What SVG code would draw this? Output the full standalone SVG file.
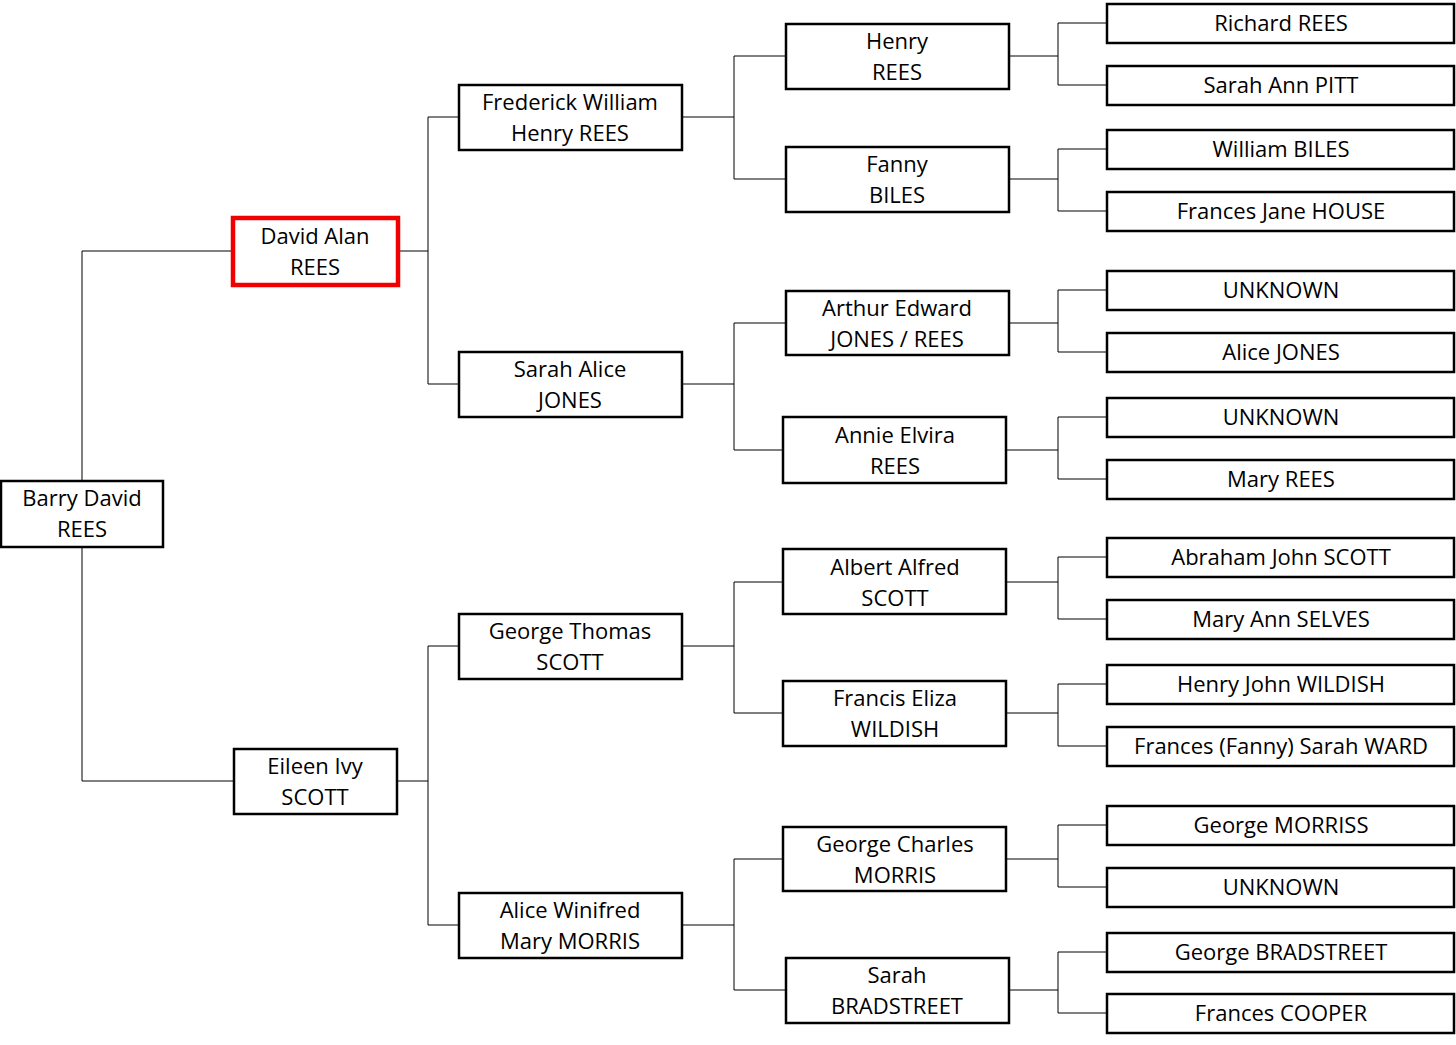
<svg xmlns="http://www.w3.org/2000/svg" width="1456" height="1045" viewBox="0 0 1456 1045">
<style>
rect{fill:#fff;stroke:#000;stroke-width:2.5}
rect.sel{stroke:#f00000;stroke-width:4.5}
text{font-family:"Open Sans","Noto Sans",sans-serif;font-size:22px;text-anchor:middle;fill:#000}
#connectors path{fill:none;stroke:#000;stroke-width:1}
</style>
<rect x="0" y="0" width="1456" height="1045" style="fill:#fff;stroke:none"/>
<g id="connectors">
<path d="M232 251H82V781H234"/>
<path d="M398 251H428M459 117H428V384H459M397 781H428M459 646H428V925H459"/>
<path d="M682 117H734M786 56H734V179H786M682 384H734M786 323H734V450H783M682 646H734M783 582H734V713H783M682 925H734M783 859H734V990H786"/>
<path d="M1009 56H1058M1107 23H1058V85H1107M1009 179H1058M1107 149H1058V211H1107M1009 323H1058M1107 290H1058V352H1107M1006 450H1058M1107 417H1058V479H1107M1006 582H1058M1107 557H1058V619H1107M1006 713H1058M1107 684H1058V746H1107M1006 859H1058M1107 825H1058V887H1107M1009 990H1058M1107 952H1058V1013H1107"/>
</g>
<g id="barry"><rect x="1" y="481" width="162" height="66"/><text x="82" y="506">Barry David</text><text x="82" y="537">REES</text></g>
<g id="david"><rect class="sel" x="233" y="218" width="165" height="67"/><text x="315" y="244">David Alan</text><text x="315" y="275">REES</text></g>
<g id="eileen"><rect x="234" y="749" width="163" height="65"/><text x="315" y="774">Eileen Ivy</text><text x="315" y="805">SCOTT</text></g>
<g id="frederick"><rect x="459" y="85" width="223" height="65"/><text x="570" y="110">Frederick William</text><text x="570" y="141">Henry REES</text></g>
<g id="sarahalice"><rect x="459" y="352" width="223" height="65"/><text x="570" y="377">Sarah Alice</text><text x="570" y="408">JONES</text></g>
<g id="georgethomas"><rect x="459" y="614" width="223" height="65"/><text x="570" y="639">George Thomas</text><text x="570" y="670">SCOTT</text></g>
<g id="alicew"><rect x="459" y="893" width="223" height="65"/><text x="570" y="918">Alice Winifred</text><text x="570" y="949">Mary MORRIS</text></g>
<g id="henry"><rect x="786" y="24" width="223" height="65"/><text x="897" y="49">Henry</text><text x="897" y="80">REES</text></g>
<g id="fanny"><rect x="786" y="147" width="223" height="65"/><text x="897" y="172">Fanny</text><text x="897" y="203">BILES</text></g>
<g id="arthur"><rect x="786" y="291" width="223" height="64"/><text x="897" y="316">Arthur Edward</text><text x="897" y="347">JONES / REES</text></g>
<g id="annie"><rect x="783" y="417" width="223" height="66"/><text x="895" y="443">Annie Elvira</text><text x="895" y="474">REES</text></g>
<g id="albert"><rect x="783" y="549" width="223" height="65"/><text x="895" y="575">Albert Alfred</text><text x="895" y="606">SCOTT</text></g>
<g id="francis"><rect x="783" y="681" width="223" height="65"/><text x="895" y="706">Francis Eliza</text><text x="895" y="737">WILDISH</text></g>
<g id="georgecharles"><rect x="783" y="827" width="223" height="64"/><text x="895" y="852">George Charles</text><text x="895" y="883">MORRIS</text></g>
<g id="sarahb"><rect x="786" y="958" width="223" height="65"/><text x="897" y="983">Sarah</text><text x="897" y="1014">BRADSTREET</text></g>
<g id="g4-1"><rect x="1107" y="4" width="347" height="39"/><text x="1281" y="31">Richard REES</text></g>
<g id="g4-2"><rect x="1107" y="66" width="347" height="39"/><text x="1281" y="93">Sarah Ann PITT</text></g>
<g id="g4-3"><rect x="1107" y="130" width="347" height="39"/><text x="1281" y="157">William BILES</text></g>
<g id="g4-4"><rect x="1107" y="192" width="347" height="39"/><text x="1281" y="219">Frances Jane HOUSE</text></g>
<g id="g4-5"><rect x="1107" y="271" width="347" height="39"/><text x="1281" y="298">UNKNOWN</text></g>
<g id="g4-6"><rect x="1107" y="333" width="347" height="39"/><text x="1281" y="360">Alice JONES</text></g>
<g id="g4-7"><rect x="1107" y="398" width="347" height="39"/><text x="1281" y="425">UNKNOWN</text></g>
<g id="g4-8"><rect x="1107" y="460" width="347" height="39"/><text x="1281" y="487">Mary REES</text></g>
<g id="g4-9"><rect x="1107" y="538" width="347" height="39"/><text x="1281" y="565">Abraham John SCOTT</text></g>
<g id="g4-10"><rect x="1107" y="600" width="347" height="39"/><text x="1281" y="627">Mary Ann SELVES</text></g>
<g id="g4-11"><rect x="1107" y="665" width="347" height="39"/><text x="1281" y="692">Henry John WILDISH</text></g>
<g id="g4-12"><rect x="1107" y="727" width="347" height="39"/><text x="1281" y="754">Frances (Fanny) Sarah WARD</text></g>
<g id="g4-13"><rect x="1107" y="806" width="347" height="39"/><text x="1281" y="833">George MORRISS</text></g>
<g id="g4-14"><rect x="1107" y="868" width="347" height="39"/><text x="1281" y="895">UNKNOWN</text></g>
<g id="g4-15"><rect x="1107" y="933" width="347" height="39"/><text x="1281" y="960">George BRADSTREET</text></g>
<g id="g4-16"><rect x="1107" y="994" width="347" height="39"/><text x="1281" y="1021">Frances COOPER</text></g>
</svg>
